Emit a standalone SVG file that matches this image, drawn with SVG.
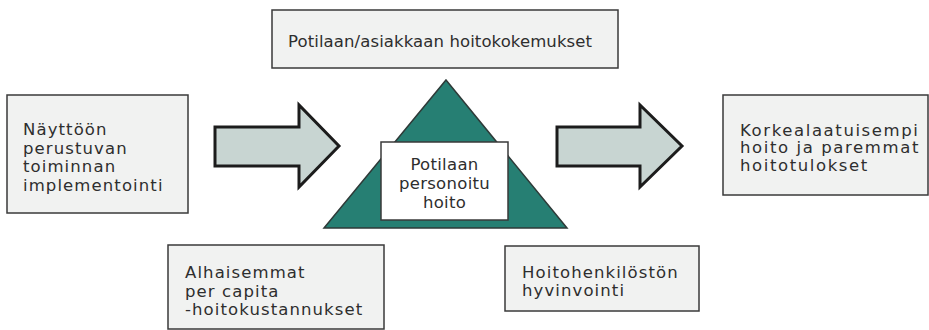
<svg xmlns="http://www.w3.org/2000/svg" width="929" height="330" viewBox="0 0 929 330">
<style>
.box{fill:#f1f2f1;stroke:#3a3a3a;stroke-width:1.5}
.inner{fill:#ffffff;stroke:#3a3a3a;stroke-width:1.5}
.tri{fill:#267f73;stroke:#2e3a38;stroke-width:1.5}
.arrow{fill:#c8d5d2;stroke:#1c1c1c;stroke-width:3;stroke-linejoin:miter}
text{font-family:"DejaVu Sans","Liberation Sans",sans-serif;font-size:16.5px;fill:#2e2e2e}
.w{letter-spacing:1.1px}
.r{letter-spacing:1.6px}
.c{text-anchor:middle;letter-spacing:0.3px}
</style>
<rect width="929" height="330" fill="#ffffff"/>
<g id="connectors">
<path class="arrow" d="M215,127 L299,127 L299,105 L339,146 L299,187 L299,166 L215,166 Z"/>
<path class="arrow" d="M557,127 L640,127 L640,105 L682,146 L640,187 L640,166 L557,166 Z"/>
</g>
<g id="node-top">
<rect class="box" x="272" y="10" width="346" height="58"/>
<text x="288" y="47" style="letter-spacing:0.1px">Potilaan/asiakkaan hoitokokemukset</text>
</g>
<g id="node-left">
<rect class="box" x="7" y="95" width="181" height="118"/>
<text class="w" x="23" y="135">Näyttöön</text>
<text class="w" x="23" y="153.5">perustuvan</text>
<text class="w" x="23" y="172">toiminnan</text>
<text class="w" x="23" y="190.5">implementointi</text>
</g>
<g id="node-center">
<polygon class="tri" points="446,80 567,228 324,228"/>
<rect class="inner" x="381" y="142" width="127" height="78"/>
<text class="c" x="444.5" y="170">Potilaan</text>
<text class="c" x="444.5" y="189">personoitu</text>
<text class="c" x="444.5" y="208">hoito</text>
</g>
<g id="node-right">
<rect class="box" x="723" y="95" width="205" height="100"/>
<text class="r" x="740" y="135.5">Korkealaatuisempi</text>
<text class="r" x="740" y="153.3">hoito ja paremmat</text>
<text class="r" x="740" y="171">hoitotulokset</text>
</g>
<g id="node-bottom-left">
<rect class="box" x="168" y="245" width="216" height="84"/>
<text class="w" x="185" y="278">Alhaisemmat</text>
<text class="w" x="185" y="296.5">per capita</text>
<text class="w" x="185" y="315">-hoitokustannukset</text>
</g>
<g id="node-bottom-right">
<rect class="box" x="505" y="246" width="194" height="65"/>
<text class="w" x="522" y="277.5">Hoitohenkilöstön</text>
<text class="w" x="522" y="295.5">hyvinvointi</text>
</g>
</svg>
